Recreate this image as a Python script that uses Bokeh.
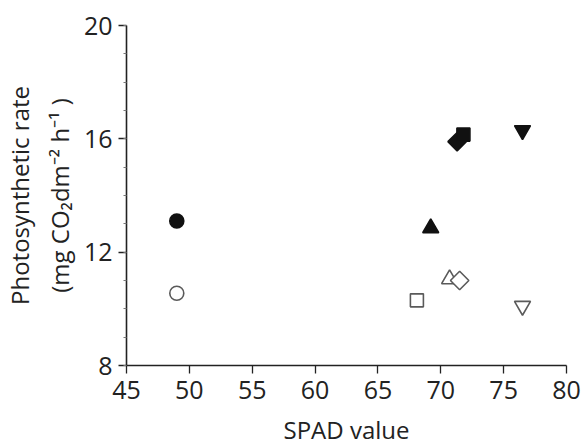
import math
from bokeh.plotting import figure
from bokeh.models import SingleIntervalTicker, Range1d
from bokeh.embed import file_html
from bokeh.resources import INLINE

# data
spad_filled = [49.0, 69.2, 71.3, 71.8, 76.5]
rate_filled = [13.1, 12.85, 15.9, 16.15, 16.3]
marker_filled = ["circle", "triangle", "diamond", "square", "inverted_triangle"]

spad_open = [49.0, 68.1, 70.7, 71.5, 76.5]
rate_open = [10.55, 10.3, 11.05, 11.0, 10.1]
marker_open = ["circle", "square", "triangle", "diamond", "inverted_triangle"]

x_ticks_interval = 5
y_ticks_interval = 4

FONT = "Open Sans"
INK = "#222222"

p = figure(width=585, height=448, output_backend="svg", toolbar_location=None,
           x_range=Range1d(45, 80), y_range=Range1d(8, 20),
           min_border_left=124, min_border_top=25, min_border_right=19,
           min_border_bottom=83)
p.outline_line_color = None
p.grid.visible = False
p.background_fill_color = "white"

SIZES = {"circle": 14, "triangle": 16, "diamond": 13, "square": 13, "inverted_triangle": 16}

def draw(xs, ys, ms, filled):
    for x, y, m in zip(xs, ys, ms):
        kw = dict(size=SIZES[m], line_width=1.6)
        mk = m
        angle = 0.0
        if m == "diamond":
            mk = "square"
            angle = math.pi / 4
        if filled:
            p.scatter([x], [y], marker=mk, angle=angle, fill_color="#111111",
                      line_color="#111111", **kw)
        else:
            p.scatter([x], [y], marker=mk, angle=angle, fill_color="white",
                      line_color="#5a5a5a", **kw)

draw(spad_open, rate_open, marker_open, False)
draw(spad_filled, rate_filled, marker_filled, True)

xa = p.xaxis[0]
ya = p.yaxis[0]
xa.ticker = SingleIntervalTicker(interval=x_ticks_interval, num_minor_ticks=0)
ya.ticker = SingleIntervalTicker(interval=y_ticks_interval, num_minor_ticks=4)

for ax in (xa, ya):
    ax.axis_line_color = INK
    ax.axis_line_width = 1.6
    ax.major_tick_line_color = INK
    ax.major_tick_line_width = 1.3
    ax.major_tick_out = 8
    ax.major_tick_in = 0
    ax.major_label_text_font = FONT
    ax.major_label_text_font_size = "25px"
    ax.major_label_text_color = INK
    ax.axis_label_text_font = FONT
    ax.axis_label_text_font_size = "24px"
    ax.axis_label_text_font_style = "normal"
    ax.axis_label_text_color = INK

xa.minor_tick_line_color = None
ya.minor_tick_line_color = "#777777"
ya.minor_tick_out = 3
ya.minor_tick_in = 0

xa.major_label_standoff = 7
ya.major_label_standoff = 6
xa.axis_label = "SPAD value"
xa.axis_label_standoff = 11
ya.axis_label = "Photosynthetic rate\n(mg CO\u2082dm\u207b\u00b2 h\u207b\u00b9 )"
ya.axis_label_standoff = 5

open("out.html", "w").write(file_html(p, INLINE))
